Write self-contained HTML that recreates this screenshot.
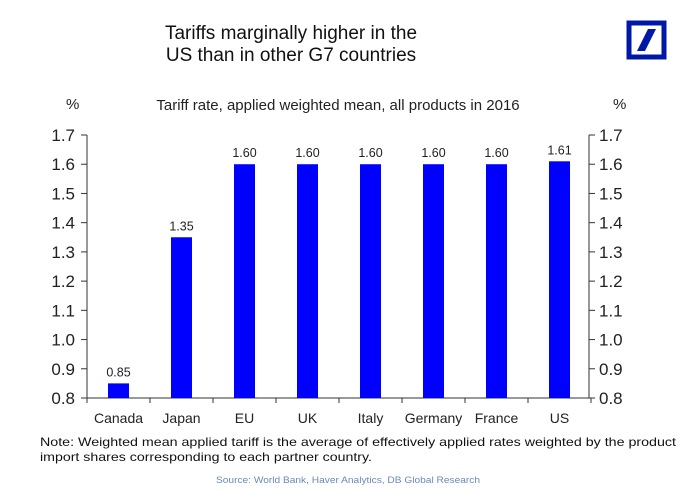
<!DOCTYPE html>
<html><head><meta charset="utf-8"><style>
body{margin:0;background:#fff;width:692px;height:489px;overflow:hidden;font-family:"Liberation Sans",Arial,sans-serif}
svg text{font-family:"Liberation Sans",Arial,sans-serif}
</style></head><body>
<svg width="692" height="489">
<text x="291" y="39" font-size="19" text-anchor="middle" fill="#111">Tariffs marginally higher in the</text>
<text x="291" y="61" font-size="19" text-anchor="middle" fill="#111">US than in other G7 countries</text>
<g>
<rect x="629" y="23" width="35" height="34" fill="none" stroke="#0018a8" stroke-width="5"/>
<polygon points="637,51 645,51 656,29 648,29" fill="#0018a8"/>
</g>
<text x="66" y="109" font-size="15" fill="#222">%</text>
<text x="613" y="109" font-size="15" fill="#222">%</text>
<text x="338" y="110" font-size="15" text-anchor="middle" fill="#222">Tariff rate, applied weighted mean, all products in 2016</text>
<g id="plot"></g>
<text x="40" y="446" font-size="12" textLength="636" lengthAdjust="spacingAndGlyphs" fill="#111">Note: Weighted mean applied tariff is the average of effectively applied rates weighted by the product</text>
<text x="40" y="461" font-size="12" textLength="332" lengthAdjust="spacingAndGlyphs" fill="#111">import shares corresponding to each partner country.</text>
<text x="216" y="483" font-size="9" textLength="264" lengthAdjust="spacingAndGlyphs" fill="#6a8ab8">Source: World Bank, Haver Analytics, DB Global Research</text>
</svg>
<script>
const categories=["Canada","Japan","EU","UK","Italy","Germany","France","US"];
const values=[0.85,1.35,1.60,1.60,1.60,1.60,1.60,1.61];
const labels=["0.85","1.35","1.60","1.60","1.60","1.60","1.60","1.61"];
const ticks=[0.8,0.9,1.0,1.1,1.2,1.3,1.4,1.5,1.6,1.7];
const NS="http://www.w3.org/2000/svg";
const g=document.getElementById('plot');
const x0=87,x1=591,yTop=135,yBot=398,vMin=0.8,vMax=1.7;
const band=(x1-x0)/categories.length;
const y=v=>yBot-(v-vMin)/(vMax-vMin)*(yBot-yTop);
const xc=i=>x0+band*(i+0.5);
function el(tag,attrs,text){const e=document.createElementNS(NS,tag);for(const k in attrs)e.setAttribute(k,attrs[k]);if(text!==undefined)e.textContent=text;g.appendChild(e);return e;}
let e;
e=el('line',{x1:x0,y1:yTop,x2:x0,y2:yBot,stroke:'#333','stroke-width':1});


e=el('line',{x1:x1-2,y1:yTop,x2:x1-2,y2:yBot,stroke:'#333','stroke-width':1});


e=el('line',{x1:x0,y1:yBot,x2:x1,y2:yBot,stroke:'#333','stroke-width':1});


ticks.forEach(t=>{
 const yy=y(t);
 el('line',{x1:x0,y1:yy,x2:x0-6,y2:yy,stroke:'#333'});
 el('line',{x1:x1-2,y1:yy,x2:x1+4,y2:yy,stroke:'#333'});
 e=el('text',{x:x0-12,y:yy+6,'font-size':17,'text-anchor':'end',fill:'#222'},t.toFixed(1));
 
 
 e=el('text',{x:x1+8,y:yy+6,'font-size':17,fill:'#222'},t.toFixed(1));
 
 
});
for(let i=0;i<=categories.length;i++){el('line',{x1:x0+band*i,y1:yBot,x2:x0+band*i,y2:yBot+5,stroke:'#333'});}
categories.forEach((c,i)=>{
 const bw=21;
 e=el('rect',{x:xc(i)-bw/2,y:y(values[i]),width:bw,height:yBot-y(values[i]),fill:'#0000ff'});
 
 
 e=el('text',{x:xc(i),y:y(values[i])-7,'font-size':12.5,'text-anchor':'middle',fill:'#222'},labels[i]);
 
 
 e=el('text',{x:xc(i),y:yBot+25,'font-size':14,'text-anchor':'middle',fill:'#222'},c);
 
 
});
</script>
</body></html>
